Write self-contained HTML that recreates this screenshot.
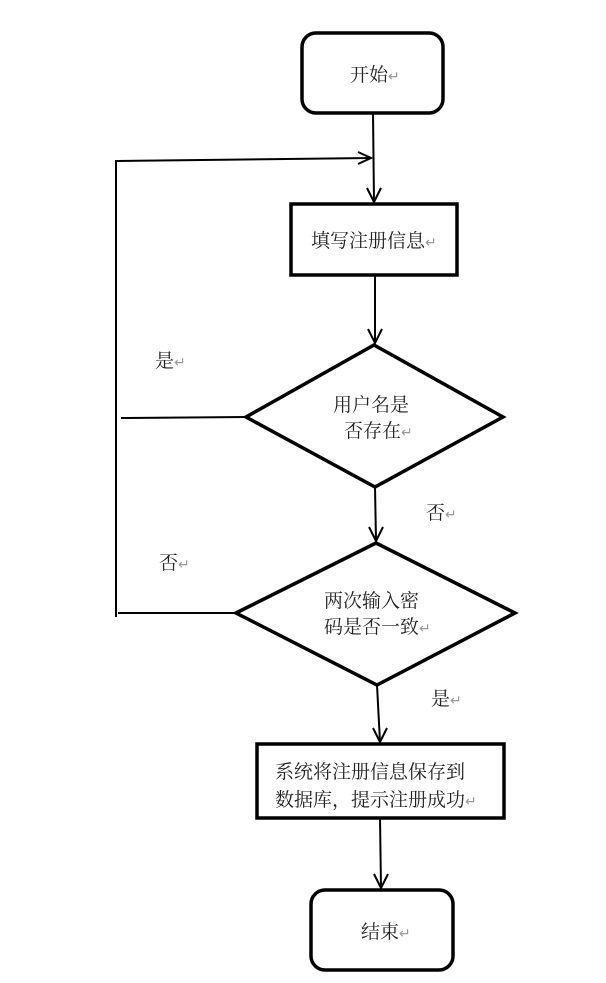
<!DOCTYPE html>
<html><head><meta charset="utf-8"><style>
html,body{margin:0;padding:0;background:#fff;width:606px;height:983px;overflow:hidden}
svg text{font-family:"Liberation Serif","Noto Serif CJK SC","Noto Sans CJK SC",serif;font-size:19px;fill:#222}
.r{fill:#999;font-size:14px}
</style></head><body>
<svg width="606" height="983" viewBox="0 0 606 983" xmlns="http://www.w3.org/2000/svg">
<g fill="none" stroke="#000">
<rect x="302" y="33" width="141" height="80" rx="14" stroke-width="3.5"/>
<rect x="291" y="204" width="166" height="71" stroke-width="3.5"/>
<polygon points="246,417 374,345 503,417 375,487" stroke-width="3.5"/>
<polygon points="236,613 376,543 515,613 377,685" stroke-width="3.5"/>
<rect x="257" y="744" width="247" height="74" stroke-width="3.5"/>
<rect x="311" y="890" width="142" height="80" rx="14" stroke-width="3.5"/>
<g stroke-width="2">
<line x1="116" y1="160" x2="116" y2="617"/>
<line x1="117" y1="161" x2="371" y2="158"/>
<polyline points="358,152 371,158 358,164"/>
<line x1="121" y1="418" x2="246" y2="417"/>
<line x1="118" y1="613" x2="236" y2="613"/>
<line x1="373" y1="113" x2="374" y2="202"/>
<polyline points="367,188 374,202 381,188"/>
<line x1="375" y1="276" x2="375" y2="343"/>
<polyline points="368,329 375,343 382,329"/>
<line x1="375" y1="487" x2="376" y2="541"/>
<polyline points="369,527 376,541 383,527"/>
<line x1="377" y1="685" x2="380" y2="742"/>
<polyline points="373,728 380,742 387,728"/>
<line x1="380" y1="818" x2="381" y2="888"/>
<polyline points="374,874 381,888 388,874"/>
</g></g>
<text x="350" y="81">开始<tspan class="r">↵</tspan></text>
<text x="311" y="247">填写注册信息<tspan class="r">↵</tspan></text>
<text x="333" y="411">用户名是</text>
<text x="344" y="437">否存在<tspan class="r">↵</tspan></text>
<text x="324" y="607">两次输入密</text>
<text x="324" y="633">码是否一致<tspan class="r">↵</tspan></text>
<text x="275" y="778">系统将注册信息保存到</text>
<text x="275" y="806">数据库，提示注册成功<tspan class="r">↵</tspan></text>
<text x="361" y="938">结束<tspan class="r">↵</tspan></text>
<text x="155" y="367">是<tspan class="r">↵</tspan></text>
<text x="426" y="519">否<tspan class="r">↵</tspan></text>
<text x="159" y="569">否<tspan class="r">↵</tspan></text>
<text x="431" y="705">是<tspan class="r">↵</tspan></text>
</svg>
</body></html>
